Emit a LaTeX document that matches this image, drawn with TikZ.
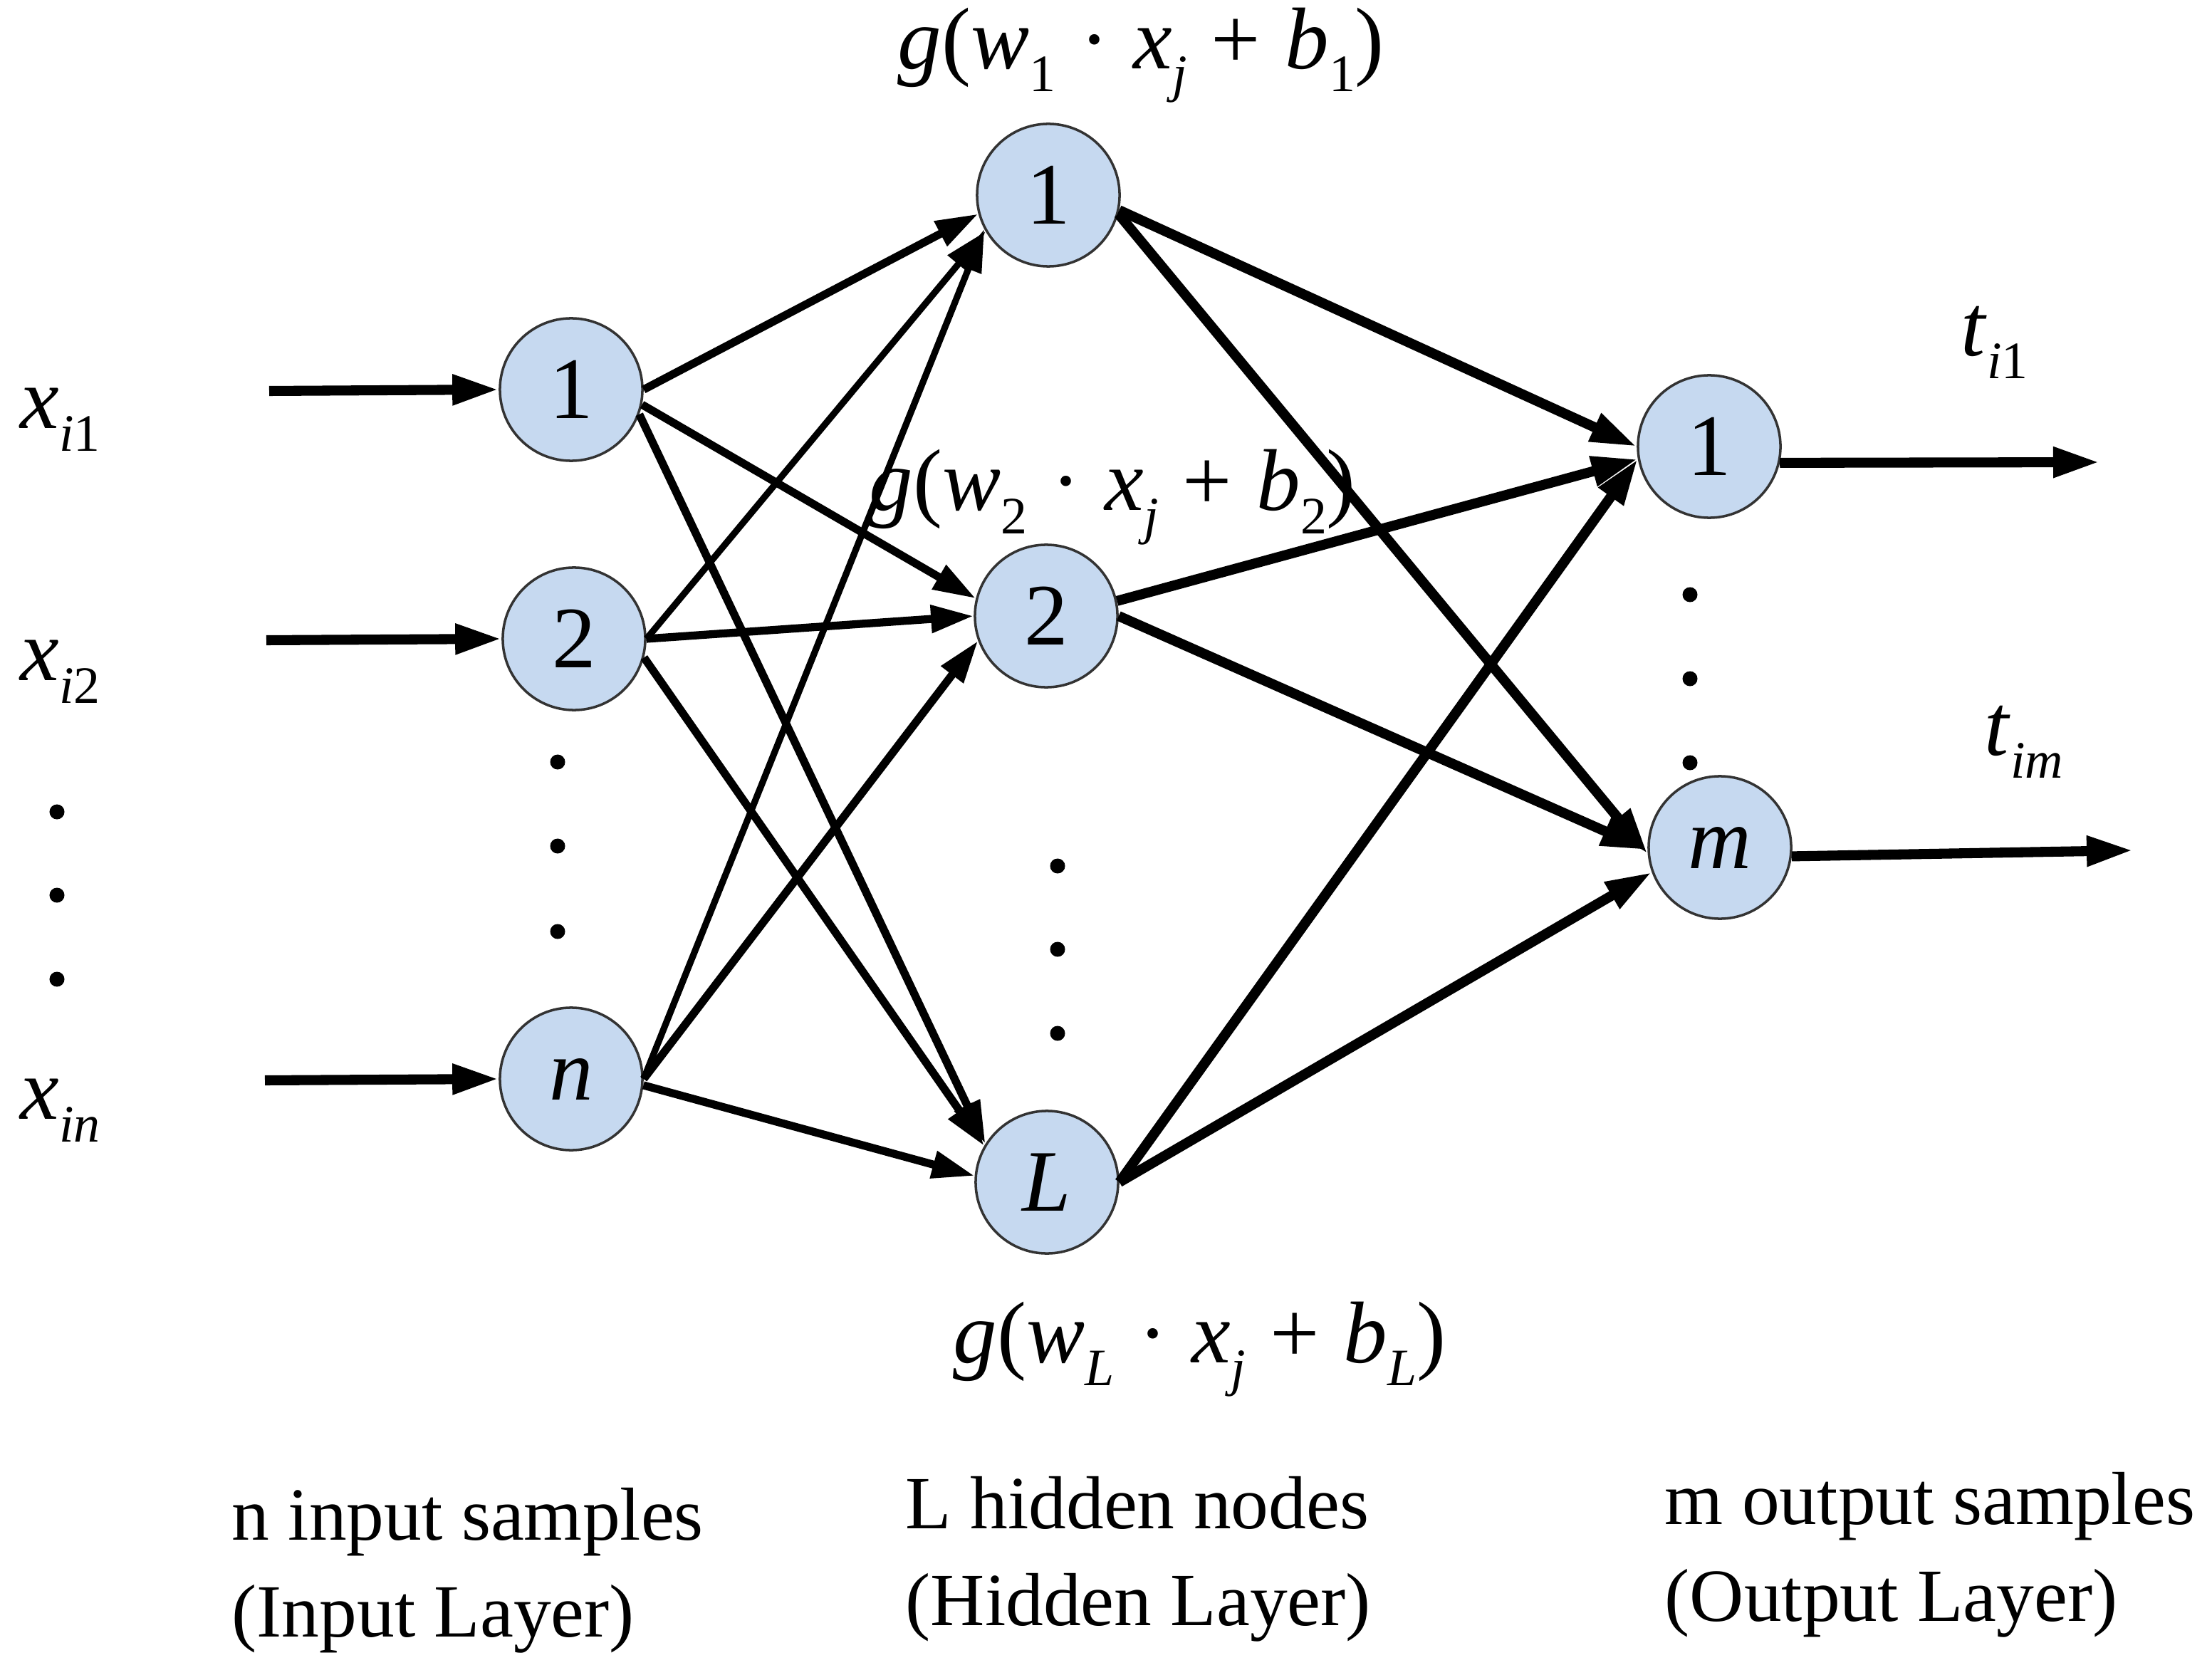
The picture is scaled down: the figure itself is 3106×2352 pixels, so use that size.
\documentclass[tikz,border=0pt]{standalone}
\usepackage{fontspec}
\setmainfont{Liberation Serif}
\usetikzlibrary{arrows.meta}

\definecolor{cellblue}{RGB}{198,217,240}
\newcommand{\lowsub}[1]{\raisebox{-0.26em}{\fontsize{21pt}{21pt}\selectfont #1}}
\newcommand{\actfun}[1]{\textit{g}(\textit{w}\lowsub{#1}\;·\;\textit{x}\lowsub{\textit{j}}\;+\;\textit{b}\lowsub{#1})}

\begin{document}
\begin{tikzpicture}[x=0.01cm, y=-0.01cm,
        neuron/.style={circle, draw=black!80, line width=1pt, fill=cellblue,
            minimum size=2cm, inner sep=0pt, font=\fontsize{35pt}{40pt}\selectfont},
        vdot/.style={circle, fill=black, inner sep=0pt, minimum size=0.21cm},
        sym/.style={anchor=base west, inner sep=0pt, font=\fontsize{35pt}{40pt}\selectfont},
        caption/.style={anchor=base west, inner sep=0pt, font=\fontsize{30pt}{36pt}\selectfont},
        link/.style={line width=3.2pt, -{Triangle[length=0.6cm, width=0.37cm]}},
        thinlink/.style={link, line width=2.6pt},
        heavylink/.style={line width=4pt, -{Triangle[length=0.65cm, width=0.4cm]}}]
    \useasboundingbox (0,0) rectangle (3106,2352);

    % layers
    \node[neuron] (I1) at (802,547)  {1};
    \node[neuron] (I2) at (806,897)  {2};
    \node[neuron] (In) at (802,1515) {\textit{n}};

    \node[neuron] (H1) at (1472,274) {1};
    \node[neuron] (H2) at (1469,865) {2};
    \node[neuron] (L)  at (1470,1660) {\textit{L}};

    \node[neuron] (O1) at (2400,627)  {1};
    \node[neuron] (Om) at (2415,1190) {\textit{m}};

    % dots
    \foreach \y [count=\k] in {1140,1257,1375} \node[vdot] (xd\k) at (80,\y) {};
    \foreach \y [count=\k] in {1070,1188,1308} \node[vdot] (id\k) at (783,\y) {};
    \foreach \y [count=\k] in {1216,1333,1451} \node[vdot] (hd\k) at (1485,\y) {};
    \foreach \y [count=\k] in {835,953,1071}   \node[vdot] (od\k) at (2373,\y) {};

    % inputs and outputs
    \coordinate (in1) at (378,549);
    \coordinate (in2) at (374,899);
    \coordinate (inn) at (372,1517);
    \coordinate (out1) at (2948,649);
    \coordinate (outm) at (2995,1194);

    \node[sym] (xi1) at (28,602)  {\textit{x}\lowsub{\textit{i}1}};
    \node[sym] (xi2) at (28,955)  {\textit{x}\lowsub{\textit{i}2}};
    \node[sym] (xin) at (28,1571) {\textit{x}\lowsub{\textit{in}}};
    \node[sym] (ti1) at (2753,500)  {\textit{t}\lowsub{\textit{i}1}};
    \node[sym] (tim) at (2786,1060) {\textit{t}\lowsub{\textit{im}}};

    \node[sym] (g1) at (1260,97)   {\actfun{1}};
    \node[sym] (g2) at (1220,717)  {\actfun{2}};
    \node[sym] (gL) at (1338,1913) {\actfun{\textit{L}}};

    \node[caption] (c1) at (325,2162)  {n input samples};
    \node[caption] (c2) at (325,2298)  {(Input Layer)};
    \node[caption] (c3) at (1271,2146) {L hidden nodes};
    \node[caption] (c4) at (1271,2282) {(Hidden Layer)};
    \node[caption] (c5) at (2337,2140) {m output samples};
    \node[caption] (c6) at (2337,2276) {(Output Layer)};

    \path[heavylink]
        (in1) edge (I1.west)
        (in2) edge (I2.west)
        (inn) edge (In.west)
        (O1.-13) edge (out1)
        (Om.-7) edge (outm)
        ;

    \path[link]
        (I1.east) edge (H1.195)
        (I1.-12)  edge (H2.166)
        (I1.-20)  edge (L.148)
        (I2.east) edge (H2.west)
        (I2.-15)  edge (L.150)
        (In.east) edge (H2.200)
        (In.-5)   edge (L.175)
        ;
    \path[thinlink]
        (I2.east) edge (H1.210)
        (In.east) edge (H1.208)
        ;

    \path[heavylink]
        (H1.-12) edge (O1.west)
        (H1.-15) edge (Om.185)
        (H2.12)  edge (O1.190)
        (H2.east) edge (Om.182)
        (L.east) edge (O1.190)
        (L.east) edge (Om.200)
        ;
\end{tikzpicture}
\end{document}
